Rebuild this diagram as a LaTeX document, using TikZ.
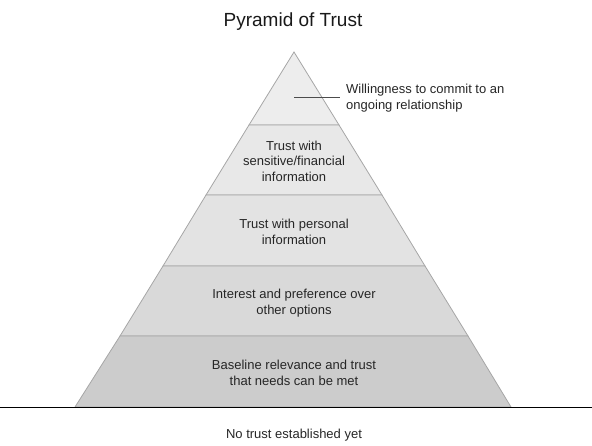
\documentclass[tikz,border=0pt]{standalone}
\usepackage{fontspec}
\setmainfont{Liberation Sans}
\begin{document}
\begin{tikzpicture}[x=1pt,y=-1pt,
  tier/.style={draw=black!35,line width=0.8pt},
  lbl/.style={align=center,font=\fontsize{13}{15.5}\selectfont,text=black!85,inner sep=0pt}]
\useasboundingbox (0,0) rectangle (592,446);
\coordinate (A) at (294,52);
\fill[black!7,tier] (294,52) -- (339,125) -- (249,125) -- cycle;
\fill[black!9,tier] (249,125) -- (339,125) -- (382,195) -- (206,195) -- cycle;
\fill[black!11,tier] (206,195) -- (382,195) -- (425,266) -- (163,266) -- cycle;
\fill[black!15,tier] (163,266) -- (425,266) -- (468,336) -- (120,336) -- cycle;
\fill[black!20,tier] (120,336) -- (468,336) -- (511,407) -- (75,407) -- cycle;
\draw[line width=1.6pt] (0,407.5) -- (592,407.5);
\node[font=\fontsize{19}{21}\selectfont,inner sep=0pt,text=black!90] (title) at (293,22) {Pyramid of Trust};
\coordinate (l1) at (294,97);
\coordinate (l2) at (340,97);
\node[lbl,align=left,anchor=west] (t1) at (346,98) {Willingness to commit to an\\ongoing relationship};
\draw[black!70,line width=0.7pt] (l1) -- (l2);
\node[lbl] (t2) at (294,161) {Trust with\\sensitive/financial\\information};
\node[lbl] (t3) at (294,232) {Trust with personal\\information};
\node[lbl] (t4) at (294,303) {Interest and preference over\\other options};
\node[lbl] (t5) at (294,373) {Baseline relevance and trust\\that needs can be met};
\node[lbl] (t6) at (294,435) {No trust established yet};
\end{tikzpicture}
\end{document}
